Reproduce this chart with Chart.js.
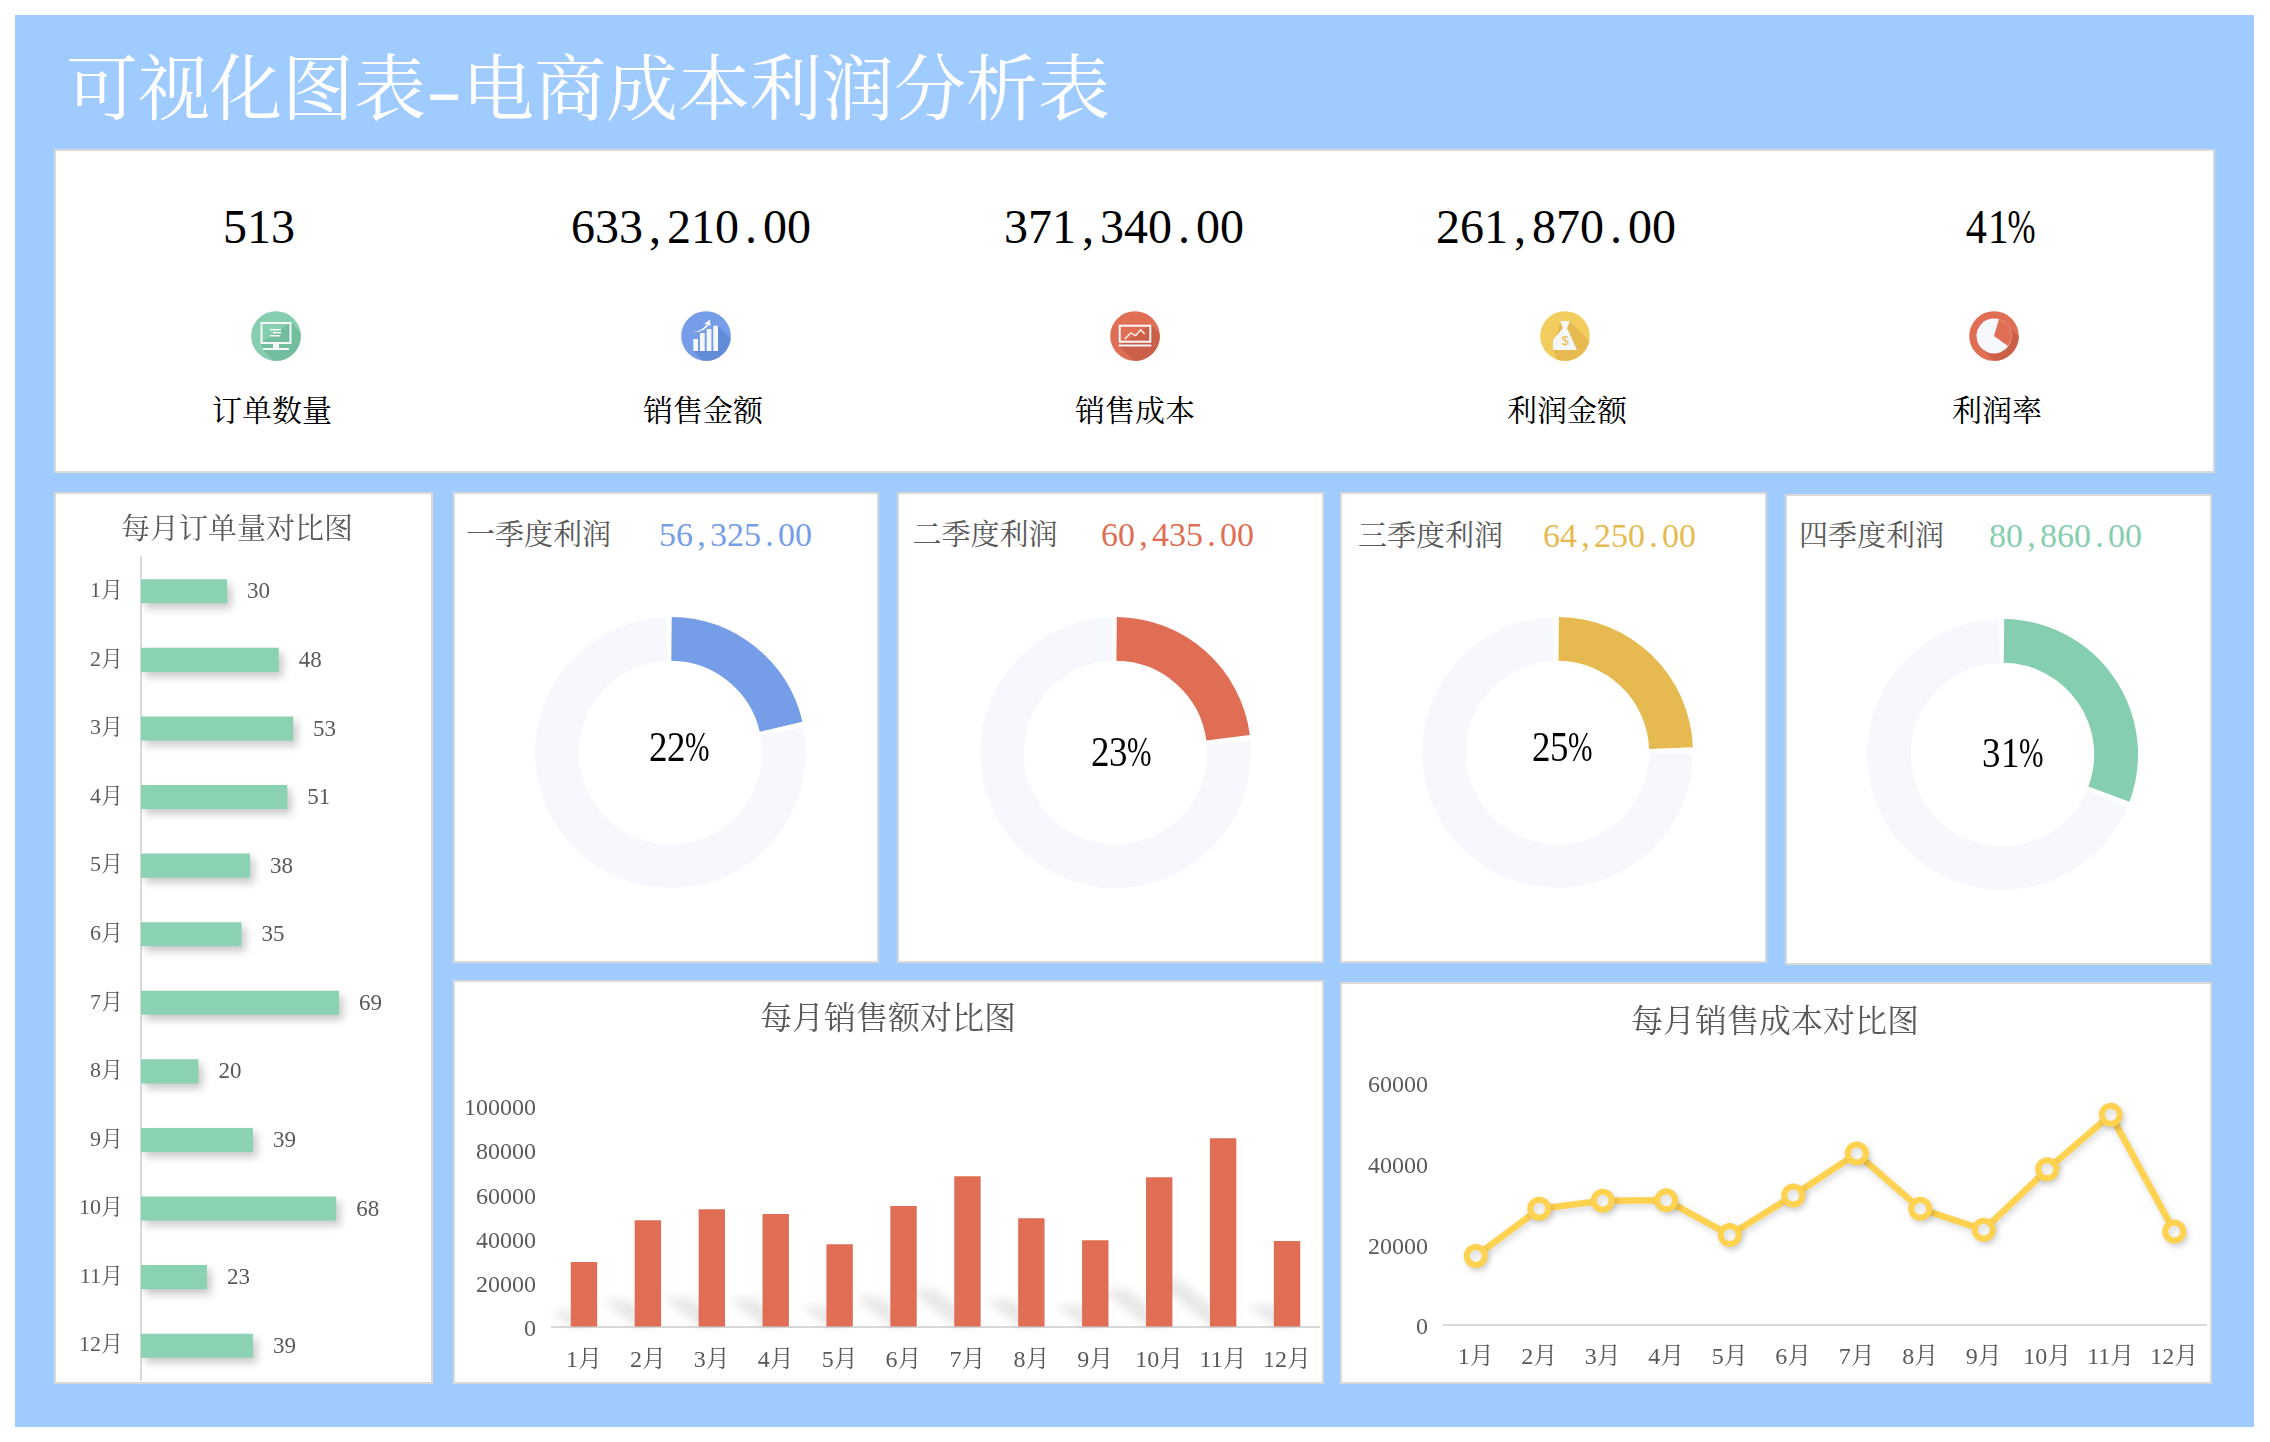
<!DOCTYPE html>
<html>
<head>
<meta charset="utf-8">
<title>可视化图表-电商成本利润分析表</title>
<script src="https://cdn.jsdelivr.net/npm/chart.js@4"></script>
<style>
  html, body { margin: 0; background: #fff; width: 2270px; height: 1442px; overflow: hidden; }
  body { font-family: "Liberation Serif", "Noto Serif CJK SC", "Noto Sans CJK SC", serif; }
  #bg { position: absolute; left: 15px; top: 15px; width: 2239px; height: 1412px; background: #9fcbff; }
  .panel { position: absolute; box-sizing: border-box; background: #fff; border: 2px solid #d9d9d9; }
  .mid { position: absolute; transform: translate(-50%, -50%); white-space: nowrap; line-height: 1; }
  .g { display: inline-block; font-style: normal; width: .5em; text-align: center; }
  .n { display: inline-block; font-style: normal; width: .45em; text-align: center; transform: scaleX(.88); }
  .pct { display: inline-block; font-style: normal; width: .58em; text-align: left; transform: scaleX(.7); transform-origin: left center; }
  canvas { position: absolute; }
  svg { position: absolute; }
</style>
</head>
<body>
<div id="bg"></div>
<div id="page"></div>
<script>
const pageTitle = ['可视化图表', '-', '电商成本利润分析表'];

const kpiLabels = ['订单数量', '销售金额', '销售成本', '利润金额', '利润率'];
const kpiValues = ['513', '633,210.00', '371,340.00', '261,870.00', '41%'];

const months = ['1月', '2月', '3月', '4月', '5月', '6月', '7月', '8月', '9月', '10月', '11月', '12月'];
const monthlyOrders = [30, 48, 53, 51, 38, 35, 69, 20, 39, 68, 23, 39];
const monthlySales = [29400, 48300, 53300, 51100, 37500, 54700, 68200, 49200, 39300, 67800, 85400, 38900];
const monthlyCost = [17100, 28800, 30800, 30900, 22300, 32100, 42500, 28800, 23600, 38600, 52100, 23200];

const quarterNames = ['一季度利润', '二季度利润', '三季度利润', '四季度利润'];
const quarterProfit = [56325, 60435, 64250, 80860];
const quarterShareText = ['22%', '23%', '25%', '31%'];
const totalProfit = 261870;

const ordersTitle = '每月订单量对比图';
const salesTitle = '每月销售额对比图';
const costTitle = '每月销售成本对比图';

const FONT = '"Liberation Serif", "Noto Serif CJK SC", "Noto Sans CJK SC", serif';
const GREY = '#595959';
const AXIS = '#d9d9d9';
const quarterColors = ['#759de8', '#df6e55', '#e6ba50', '#85ceaf'];
const TRACK = '#f7f8fd';

const page = document.querySelector('#page');

function addPanel(l, t, r, b) {
    const d = document.createElement('div');
    d.className = 'panel';
    d.style.cssText = `left:${l}px;top:${t}px;width:${r - l}px;height:${b - t}px`;
    page.appendChild(d);
}

function addText(html, cx, cy, size, color) {
    const d = document.createElement('div');
    d.className = 'mid';
    d.style.cssText = `left:${cx}px;top:${cy}px;font-size:${size}px;color:${color}`;
    d.innerHTML = html;
    page.appendChild(d);
}

// SimSun style half width digits, the percent sign gets squeezed
function digits(text) {
    const tight = text.includes('%');
    return [...text].map(c => {
        if (c === '%') return `<i class="pct">${c}</i>`;
        return `<i class="${tight ? 'n' : 'g'}">${c}</i>`;
    }).join('');
}

function addCanvas(l, t, w, h) {
    const c = document.createElement('canvas');
    c.width = w;
    c.height = h;
    c.style.cssText = `left:${l}px;top:${t}px;width:${w}px;height:${h}px`;
    page.appendChild(c);
    return c.getContext('2d');
}

addPanel(54, 149, 2215, 473);
addPanel(54, 492, 433, 1384);
addPanel(453, 492, 879, 963);
addPanel(897, 492, 1324, 963);
addPanel(1340, 492, 1767, 963);
addPanel(1785, 494, 2212, 965);
addPanel(453, 980, 1324, 1384);
addPanel(1340, 982, 2212, 1384);

// header
addText(pageTitle[0] + `<i class="g" style="transform:scaleX(1.5)">${pageTitle[1]}</i>` + pageTitle[2], 588, 90, 72, '#fff');

// kpi row
const kpiValueX = [259, 691, 1124, 1556, 2000];
const kpiLabelX = [272, 703, 1135, 1567, 1997];
kpiValues.forEach((v, i) => addText(digits(v), kpiValueX[i], 227, 48, '#000'));
kpiLabels.forEach((v, i) => addText(v, kpiLabelX[i], 411, 30, '#000'));

// kpi icons
const W = '#f6f7fb';
const iconArt = [
    {
        fill: '#85ceaf', dark: '#72bd9e',
        shade: 'M-15 7 L15 -14 L30 2 L30 30 L2 30 L-13 14 Z',
        art: `<rect x="-14.5" y="-13" width="29" height="20" fill="none" stroke="${W}" stroke-width="2"/>
              <rect x="-3" y="8" width="6" height="4" fill="${W}"/><rect x="-13" y="12" width="26" height="2" fill="${W}"/>
              <rect x="-6" y="-7" width="11" height="1.5" fill="${W}"/><rect x="-3" y="-4" width="8" height="1.5" fill="${W}"/><rect x="-6" y="-1" width="10" height="1.5" fill="${W}"/>`
    },
    {
        fill: '#759de8', dark: '#638cd8',
        shade: 'M-13 15 L12 15 L12 -10 L30 8 L30 30 L2 30 Z',
        art: `<rect x="-12.7" y="3" width="4.7" height="12" fill="${W}"/><rect x="-6" y="-3" width="4.7" height="18" fill="${W}"/>
              <rect x=".7" y="-7" width="4.7" height="22" fill="${W}"/><rect x="7.3" y="-10.3" width="4.7" height="25.3" fill="${W}"/>
              <path d="M-13 -4 Q-4 -5 1 -12 L-2 -12 L4 -16.5 L4.5 -10 L2.5 -11 Q-3 -3 -13 -4 Z" fill="${W}"/>`
    },
    {
        fill: '#df6e55', dark: '#cc5f48',
        shade: 'M-16 10 L16 -11 L30 3 L30 30 L4 30 Z',
        art: `<rect x="-15.3" y="-10.3" width="30.6" height="16" fill="none" stroke="${W}" stroke-width="2"/>
              <rect x="-16.3" y="8.5" width="32.6" height="2" fill="${W}"/>
              <polyline points="-10.3,3 -4.3,-3 .7,-.3 5.7,-6.3 9.7,-2" fill="none" stroke="${W}" stroke-width="1.4"/>`
    },
    {
        fill: '#f2cc5c', dark: '#e6ba50',
        shade: 'M-5 -14 L5 -14 L30 10 L30 30 L-6 30 L-12 14 Z',
        art: `<path d="M-5 -15 L5 -15 L2 -8 L12 14 L-12 14 L-12 4 L-2 -8 Z" fill="${W}"/>
              <text x="0" y="9" font-size="13" text-anchor="middle" fill="#e6ba50" font-family="Liberation Sans">$</text>`
    },
    {
        fill: '#df6e55', dark: '#cc5f48',
        shade: 'M-12 12 L12 -12 L30 6 L30 30 L4 30 Z',
        art: `<circle r="17.5" fill="${W}"/><path d="M0 0 L5 -17 A17.5 17.5 0 0 1 14 10 Z" fill="#df6e55"/>`
    }
];
const iconX = [276, 706, 1135, 1565, 1994];
let iconSvg = '';
iconArt.forEach((ic, i) => {
    iconSvg += `<svg style="left:${iconX[i] - 25}px;top:311px" width="50" height="50" viewBox="-25 -25 50 50">
      <defs><clipPath id="ic${i}"><circle r="24.8"/></clipPath></defs>
      <circle r="24.8" fill="${ic.fill}"/><path d="${ic.shade}" fill="${ic.dark}" clip-path="url(#ic${i})"/>${ic.art}</svg>`;
});
page.insertAdjacentHTML('beforeend', iconSvg);

// quarter headers and doughnut labels
const qNameX = [538.5, 985, 1430.5, 1871.5];
const qValueX = [735.5, 1177.5, 1619.5, 2065.5];
const qHeadY = [535, 535, 536, 536];
const qPctPos = [[678.5, 747], [1120.5, 752], [1561.5, 747], [2012, 753]];
const qCenter = [[670, 752], [1115, 752], [1557.5, 752], [2002, 754]];

quarterNames.forEach((name, i) => {
    addText(name, qNameX[i], qHeadY[i], 29, GREY);
    addText(digits(quarterProfit[i].toLocaleString('en-US', {minimumFractionDigits: 2})), qValueX[i], qHeadY[i], 34, quarterColors[i]);
});

const softShadow = (color, blur, dx, dy) => ({
    id: 'softShadow',
    beforeDatasetsDraw(chart) {
        const ctx = chart.ctx;
        ctx.save();
        ctx.shadowColor = color;
        ctx.shadowBlur = blur;
        ctx.shadowOffsetX = dx;
        ctx.shadowOffsetY = dy;
    },
    afterDatasetsDraw(chart) {
        chart.ctx.restore();
    }
});

// skewed floor shadow behind each column of the sales chart
const floorShadow = {
    id: 'floorShadow',
    beforeDatasetsDraw(chart) {
        const ctx = chart.ctx;
        ctx.save();
        ctx.filter = 'blur(5px)';
        ctx.fillStyle = 'rgba(0,0,0,.09)';
        chart.getDatasetMeta(0).data.forEach(bar => {
            const h = bar.base - bar.y;
            const half = bar.width / 2;
            ctx.beginPath();
            ctx.moveTo(bar.x - half, bar.base);
            ctx.lineTo(bar.x + half, bar.base);
            ctx.lineTo(bar.x + half - h * .3, bar.base - h * .25);
            ctx.lineTo(bar.x - half - h * .3, bar.base - h * .25);
            ctx.closePath();
            ctx.fill();
        });
        ctx.restore();
    }
};

const barValues = {
    id: 'barValues',
    afterDatasetsDraw(chart) {
        const ctx = chart.ctx;
        ctx.save();
        ctx.font = '23px ' + FONT;
        ctx.fillStyle = GREY;
        ctx.textBaseline = 'middle';
        chart.getDatasetMeta(0).data.forEach((bar, i) => {
            ctx.fillText(chart.data.datasets[0].data[i], bar.x + 20, bar.y + 1);
        });
        ctx.restore();
    }
};

const titleOpt = (text, size, top, bottom) => ({
    display: true,
    text: text,
    color: GREY,
    font: {family: FONT, size: size, weight: 'normal'},
    padding: {top: top, bottom: bottom}
});

// invisible tick marks push the labels away from the axis, ticks.padding would shrink the plot
const hiddenTicks = length => ({
    drawOnChartArea: false,
    drawTicks: true,
    tickLength: length,
    tickColor: 'transparent'
});

function fixBox(scale, width, height) {
    if (width) scale.width = width;
    if (height) scale.height = height;
    scale.paddingLeft = scale.paddingRight = scale.paddingTop = scale.paddingBottom = 0;
}

// orders, horizontal bars
new Chart(addCanvas(48, 494, 384, 888), {
    type: 'bar',
    data: {
        labels: months,
        datasets: [{
            data: monthlyOrders,
            backgroundColor: '#8bd2b2',
            categoryPercentage: 1,
            barPercentage: .35
        }]
    },
    options: {
        indexAxis: 'y',
        responsive: false,
        animation: false,
        devicePixelRatio: 1,
        layout: {padding: {right: 6, bottom: 2}},
        plugins: {
            legend: {display: false},
            tooltip: {enabled: false},
            title: titleOpt(ordersTitle, 29, 19.6, 8.6)
        },
        scales: {
            x: {display: false, min: 0, max: 99.3},
            y: {
                grid: hiddenTicks(18),
                border: {color: AXIS, width: 2},
                ticks: {color: GREY, padding: 0, font: {family: FONT, size: 22}},
                afterFit(scale) { fixBox(scale, 93); }
            }
        }
    },
    plugins: [softShadow('rgba(0,0,0,.22)', 8, 4, 5), barValues]
});

// quarter doughnuts
quarterProfit.forEach((v, i) => {
    new Chart(addCanvas(qCenter[i][0] - 135.5, qCenter[i][1] - 135.5, 271, 271), {
        type: 'doughnut',
        data: {
            labels: [quarterNames[i], '其余'],
            datasets: [{
                data: [v, totalProfit - v],
                backgroundColor: [quarterColors[i], TRACK],
                borderWidth: 0,
                spacing: 3
            }]
        },
        options: {
            responsive: false,
            animation: false,
            devicePixelRatio: 1,
            cutout: '67.3%',
            plugins: {legend: {display: false}, tooltip: {enabled: false}}
        }
    });
    addText(digits(quarterShareText[i]), qPctPos[i][0], qPctPos[i][1], 42, '#000');
});

const monthAxis = (gap, height) => ({
    offset: true,
    grid: hiddenTicks(gap),
    border: {color: AXIS, width: 2},
    ticks: {color: GREY, padding: 0, autoSkip: false, maxRotation: 0, font: {family: FONT, size: 24}},
    afterFit(scale) { fixBox(scale, 0, height); }
});

const valueAxis = (max, width) => ({
    min: 0,
    max: max,
    grid: {...hiddenTicks(16), display: true},
    border: {display: false},
    ticks: {
        color: GREY,
        padding: 0,
        stepSize: 20000,
        labelOffset: 3,
        font: {family: FONT, size: 24},
        callback: value => String(value)
    },
    afterFit(scale) { fixBox(scale, width); }
});

// monthly sales
new Chart(addCanvas(457, 982, 867, 400), {
    type: 'bar',
    data: {
        labels: months,
        datasets: [{
            data: monthlySales,
            backgroundColor: '#df6e55',
            categoryPercentage: 1,
            barPercentage: .413
        }]
    },
    options: {
        responsive: false,
        animation: false,
        devicePixelRatio: 1,
        layout: {padding: {right: 5}},
        plugins: {
            legend: {display: false},
            tooltip: {enabled: false},
            title: titleOpt(salesTitle, 32, 19.8, 65.8)
        },
        scales: {x: monthAxis(19, 55), y: valueAxis(100000, 95)}
    },
    plugins: [floorShadow]
});

// monthly cost
new Chart(addCanvas(1344, 984, 868, 398), {
    type: 'line',
    data: {
        labels: months,
        datasets: [{
            data: monthlyCost,
            borderColor: '#ffd24f',
            borderWidth: 6.5,
            tension: 0,
            fill: false,
            pointRadius: 9,
            pointBorderWidth: 6,
            pointBackgroundColor: '#fff',
            pointBorderColor: '#ffd24f'
        }]
    },
    options: {
        responsive: false,
        animation: false,
        devicePixelRatio: 1,
        layout: {autoPadding: false, padding: {right: 6}},
        plugins: {
            legend: {display: false},
            tooltip: {enabled: false},
            title: titleOpt(costTitle, 32, 20.8, 39.8)
        },
        scales: {x: monthAxis(18, 57), y: valueAxis(60000, 100)}
    },
    plugins: [softShadow('rgba(0,0,0,.16)', 7, 2, 3)]
});
</script>
</body>
</html>
